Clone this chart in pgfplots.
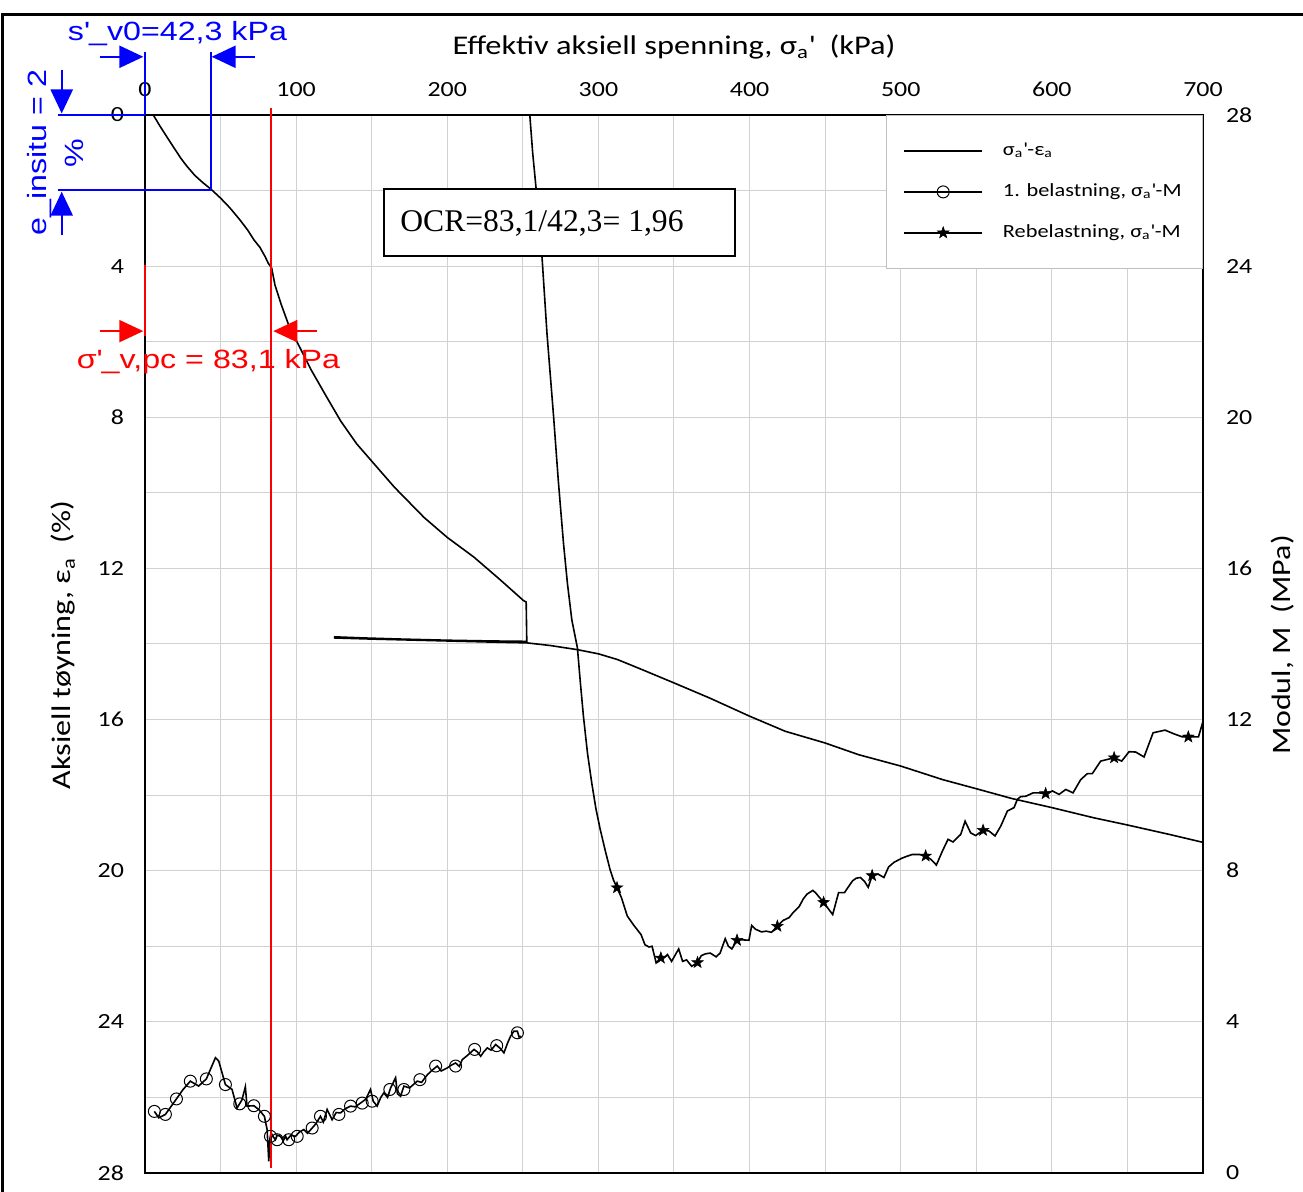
\documentclass[border=0pt]{standalone}
\usepackage{fontspec}
\setmainfont{Carlito}[FakeStretch=1.2]
\newfontfamily\arialf{Liberation Sans}[FakeStretch=1.22]
\newfontfamily\timesf{Liberation Serif}
\usepackage{pgfplots}
\pgfplotsset{compat=1.18}
\usetikzlibrary{arrows.meta}
\newcommand\ap{\textquotesingle}
\pgfdeclareplotmark{fstar}{%
  \pgfpathmoveto{\pgfpointpolar{90}{\pgfplotmarksize}}%
  \pgfpathlineto{\pgfpointpolar{126}{0.4\pgfplotmarksize}}%
  \pgfpathlineto{\pgfpointpolar{162}{\pgfplotmarksize}}%
  \pgfpathlineto{\pgfpointpolar{198}{0.4\pgfplotmarksize}}%
  \pgfpathlineto{\pgfpointpolar{234}{\pgfplotmarksize}}%
  \pgfpathlineto{\pgfpointpolar{270}{0.4\pgfplotmarksize}}%
  \pgfpathlineto{\pgfpointpolar{306}{\pgfplotmarksize}}%
  \pgfpathlineto{\pgfpointpolar{342}{0.4\pgfplotmarksize}}%
  \pgfpathlineto{\pgfpointpolar{18}{\pgfplotmarksize}}%
  \pgfpathlineto{\pgfpointpolar{54}{0.4\pgfplotmarksize}}%
  \pgfpathclose
  \pgfusepathqfillstroke}

\pgfplotstableread{
x y
5.5 0
10 0.3
14 0.55
18.7 0.84
23.8 1.15
27.6 1.35
33 1.6
38 1.78
44.1 1.98
50 2.2
56 2.45
62.9 2.78
68 3.05
72 3.3
76 3.5
79.5 3.75
81.5 3.92
83.8 4.05
86 4.5
90 5.0
95 5.55
100.9 6.03
110 6.75
120 7.45
129.5 8.1
140 8.7
151.5 9.23
165 9.85
184.6 10.65
200 11.18
217.6 11.7
235 12.3
250.4 12.85
252.2 12.89
252.6 13.93
230 13.92
200 13.90
170 13.87
145 13.84
125.5 13.81
125.5 13.84
150 13.87
200 13.92
240 13.96
252.6 13.97
268.1 14.04
286.1 14.15
300 14.26
312.5 14.41
327.8 14.66
350 15.03
373.6 15.43
400 15.91
423.6 16.31
450 16.62
472.2 16.93
500 17.23
527.8 17.59
550 17.83
573.6 18.09
600 18.33
627.8 18.6
650 18.79
677.8 19.04
700 19.25
}\sigeps

\pgfplotstableread{
x y
6.2 1.63
9.1 1.46
13.5 1.55
20.8 1.96
25 2.2
30.0 2.43
35.5 2.30
40.6 2.49
46.6 3.05
48.8 2.96
53.2 2.34
57.6 2.21
60.9 1.72
64.2 1.94
66.4 2.28
67.5 1.77
72.0 1.78
75.3 1.68
79.0 1.50
80.8 1.15
81.9 0.31
82.6 0.9
83.4 1.06
85 0.95
86.3 0.88
87.5 1.0
89.6 0.97
91.5 0.85
93 0.98
94.0 0.88
96.5 1.0
99.6 0.97
102 1.08
105.1 1.15
107.5 1.05
110.6 1.19
113 1.3
116.1 1.50
118 1.35
120.5 1.68
123.8 1.41
126.5 1.6
129.4 1.59
132.5 1.7
136.0 1.77
139 1.75
142.6 1.85
146 1.95
149.2 2.21
151 1.9
153.6 1.77
156 2.0
158.0 2.12
160.5 2.0
162.5 2.25
165.8 2.52
167 2.1
169.1 2.03
171.3 2.30
175 2.25
180.1 2.43
183 2.4
186.8 2.60
190 2.72
193.4 2.83
196 2.7
200.0 2.78
202.5 2.85
205.5 2.91
208 2.82
209.9 3.00
213 3.1
217.7 3.27
220 3.2
222.1 3.09
224 3.2
226.5 3.31
229 3.25
232.0 3.40
235 3.3
237.5 3.18
240 3.45
241.9 3.62
244 3.75
246.4 3.75
247.5 3.6
248.6 3.62
}\belast

\pgfplotstableread{
x y
6.2 1.63
13.5 1.55
20.8 1.96
30.0 2.43
40.6 2.49
53.2 2.34
62.7 1.83
72.0 1.78
79.0 1.50
83.0 0.97
87.4 0.88
95.1 0.88
100.7 0.97
110.6 1.19
116.1 1.50
128.3 1.55
136.0 1.77
143.7 1.85
150.3 1.90
162.0 2.21
171.3 2.21
181.9 2.47
192.3 2.83
205.5 2.83
218.1 3.27
232.7 3.37
246.4 3.71
}\belastmarks

\pgfplotstableread{
x y
254.6 28
256.5 27
258.8 26.04
260.5 25.1
262.6 24.29
266 22.2
270.3 20.04
273.5 18.3
276.9 16.66
279.5 15.6
282.4 14.64
286.1 13.9
288 13.0
290.1 12.08
292.8 11.1
295.6 10.32
298.3 9.65
301.1 9.11
304.4 8.55
307.7 8.03
310 7.75
312.3 7.55
315.2 7.29
319.1 6.8
323.5 6.55
328.2 6.31
330.8 6.04
333.5 5.98
335.5 6.0
338.2 5.56
341.3 5.69
343 5.68
345.7 5.78
348.4 5.6
353.1 5.93
355.7 5.6
358.3 5.64
361.7 5.47
365.6 5.57
368 5.75
370.8 5.8
374 5.82
377.9 5.72
380.5 5.82
383.9 6.2
386 6.0
388.3 5.93
391.7 6.16
395 6.17
399.6 6.16
401.4 6.55
404 6.45
407.9 6.38
411 6.4
414.5 6.37
418.4 6.53
422 6.68
426.2 6.76
429 6.9
432.8 7.05
435.5 7.25
438.0 7.38
441.9 7.48
444 7.4
449.0 7.16
452 7.0
455.0 6.84
458.9 7.42
462.8 7.42
465 7.55
468.1 7.73
470.5 7.8
473.3 7.82
476 7.72
478.5 7.56
481.1 7.87
485.0 7.91
488.9 7.82
492 8.1
495.5 8.22
500.7 8.33
504 8.38
507.7 8.43
512.1 8.43
516.5 8.39
520 8.3
523.6 8.15
527.6 8.52
531.3 8.83
534.6 8.76
539.7 8.96
542.6 9.31
546.3 9.0
549.6 8.93
554.5 9.07
558.4 9.05
562.4 8.92
566.2 9.18
570.6 9.58
575.0 9.67
577.2 9.89
579.4 9.96
582.7 9.97
587.6 10.06
591.5 10.06
595.9 10.04
600.4 10.11
604.8 10.02
609.2 10.15
614.0 10.06
619.1 10.41
623.5 10.57
626.8 10.57
632.3 10.9
641.2 10.99
646.2 10.9
651.1 11.15
655.5 11.14
661.0 11.01
667.0 11.65
674.9 11.72
680.9 11.62
686.4 11.54
690.3 11.54
697.0 11.54
700 11.95
}\rebelast

\pgfplotstableread{
x y
312.3 7.55
341.3 5.69
365.6 5.57
391.7 6.16
418.4 6.53
449.0 7.16
481.1 7.87
516.5 8.39
554.5 9.07
595.9 10.04
641.2 10.99
690.3 11.54
}\rebelastmarks

\begin{document}
\begin{tikzpicture}
\begin{axis}[
  scale only axis, width=529pt, height=529pt,
  xmin=0, xmax=700, ymin=0, ymax=28, y dir=reverse,
  xtick={0,100,...,700}, ytick={0,4,...,28},
  minor x tick num=1, minor y tick num=1,
  grid=both,
  major grid style={draw=black!18, line width=0.5pt},
  minor grid style={draw=black!18, line width=0.5pt},
  major tick length=0pt, minor tick length=0pt,
  xticklabel pos=upper,
  tick label style={font=\fontsize{10.8}{13}\selectfont},
  /pgf/number format/assume math mode=true,
  axis line style={line width=1pt},
  yticklabel style={xshift=-7pt},
  xticklabel style={yshift=5.5pt},
  clip=false,
]
\addplot[black, line width=0.8pt] table[x=x,y=y] {\sigeps};
\node[font=\fontsize{13.5}{15}\selectfont] at (axis description cs:0.5,1.0643)
  {Effektiv aksiell spenning, σ\textsubscript{a}\ap\ \ (kPa)};
\node[font=\fontsize{13.4}{16}\selectfont, rotate=90] at (axis description cs:-0.0775,0.499)
  {Aksiell tøyning, ε\textsubscript{a}\ \ (\%)};
\node[font=\fontsize{13.3}{15}\selectfont, rotate=90] at (axis description cs:1.0756,0.499)
  {Modul, M\ \ (MPa)};
\end{axis}
\begin{axis}[
  scale only axis, width=529pt, height=529pt,
  xmin=0, xmax=700, ymin=0, ymax=28,
  axis x line=none, axis y line*=right,
  ytick={0,4,...,28},
  major tick length=0pt, minor tick length=0pt,
  tick label style={font=\fontsize{10.8}{13}\selectfont},
  /pgf/number format/assume math mode=true,
  axis line style={line width=1pt},
  yticklabel style={xshift=8pt},
  clip=false,
  legend style={at={(1,1)}, anchor=north east, draw=black!25, fill=white,
    font=\fontsize{9.3}{11}\selectfont, inner xsep=8.5pt, inner ysep=12pt,
    row sep=8.5pt, legend cell align=left,
    /tikz/every odd column/.append style={column sep=8pt}},
  legend image code/.code={\draw[mark repeat=2,mark phase=2]
    plot coordinates {(0pt,0pt) (19.5pt,0pt) (39pt,0pt)};},
]
\addlegendimage{black, line width=0.8pt}
\addlegendentry{σ\textsubscript{a}\ap-ε\textsubscript{a}}
\addlegendimage{black, line width=0.8pt, mark=o, mark size=3pt, mark options={line width=0.5pt}}
\addlegendentry{1. belastning, σ\textsubscript{a}\ap-M}
\addlegendimage{black, line width=0.8pt, mark=fstar, mark size=3pt, mark options={line width=0.3pt}}
\addlegendentry{Rebelastning, σ\textsubscript{a}\ap-M}

\addplot[black, line width=0.8pt, forget plot] table[x=x,y=y] {\belast};
\addplot[black, only marks, mark=o, mark size=3pt, mark options={line width=0.5pt}, forget plot] table[x=x,y=y] {\belastmarks};
\addplot[black, line width=0.8pt, forget plot] table[x=x,y=y] {\rebelast};
\addplot[black, only marks, mark=fstar, mark size=3pt, mark options={line width=0.3pt}, forget plot] table[x=x,y=y] {\rebelastmarks};

% OCR box
\draw[line width=1.2pt, fill=white] (axis cs:158.1,26.04) rectangle (axis cs:390.4,24.27);
\node[anchor=west, inner sep=0pt, font=\timesf\fontsize{15.8}{18}\selectfont] at (axis cs:168.7,25.12) {OCR=83,1/42,3= 1,96};

% blue annotations
\draw[blue, line width=1.2pt] (axis cs:0,29.66) -- (axis cs:0,28);
\draw[blue, line width=1.2pt] (axis cs:43.7,29.66) -- (axis cs:43.7,26.01);
\draw[blue, line width=1.2pt] (axis cs:-57.6,28) -- (axis cs:0,28);
\draw[blue, line width=1.2pt] (axis cs:-57.6,26.01) -- (axis cs:43.7,26.01);
\draw[blue, line width=1.2pt, -{Triangle[length=12pt,width=11pt]}] (axis cs:-29.8,29.54) -- (axis cs:-1.1,29.54);
\draw[blue, line width=1.2pt, -{Triangle[length=12pt,width=11pt]}] (axis cs:72.8,29.54) -- (axis cs:44.1,29.54);
\draw[blue, line width=1.2pt, -{Triangle[length=12pt,width=11pt]}] (axis cs:-55.1,29.19) -- (axis cs:-55.1,28.04);
\draw[blue, line width=1.2pt, -{Triangle[length=12pt,width=11pt]}] (axis cs:-55.1,24.82) -- (axis cs:-55.1,25.97);
\node[blue, font=\arialf\fontsize{13.2}{15}\selectfont] at (axis cs:21.5,30.15) {s\ap\_v0=42,3 kPa};
\node[blue, font=\arialf\fontsize{13.2}{18.5}\selectfont, rotate=90, align=center] at (axis cs:-59.5,27.0) {e\_insitu = 2\\\%};

% red annotations
\draw[red, line width=1pt] (axis cs:83.5,28.18) -- (axis cs:83.5,0.13);
\draw[red, line width=1pt] (axis cs:0,24.03) -- (axis cs:0,22.15);
\draw[red, line width=1pt, -{Triangle[length=12pt,width=11pt]}] (axis cs:-29.8,22.28) -- (axis cs:-1.1,22.28);
\draw[red, line width=1pt, -{Triangle[length=12pt,width=11pt]}] (axis cs:113.6,22.28) -- (axis cs:84.9,22.28);
\node[red, font=\arialf\fontsize{13.2}{15}\selectfont] at (axis cs:42.0,21.46) {σ\ap\_v,pc = 83,1 kPa};

% outer frame (top and left)
\draw[black, line width=1.5pt] (axis cs:-94.6,-0.5) -- (axis cs:-94.6,30.67) -- (axis cs:766.2,30.67);
\end{axis}
\pgfresetboundingbox
\path (-72.5pt,-9.5pt) rectangle (579pt,586.5pt);
\end{tikzpicture}
\end{document}
